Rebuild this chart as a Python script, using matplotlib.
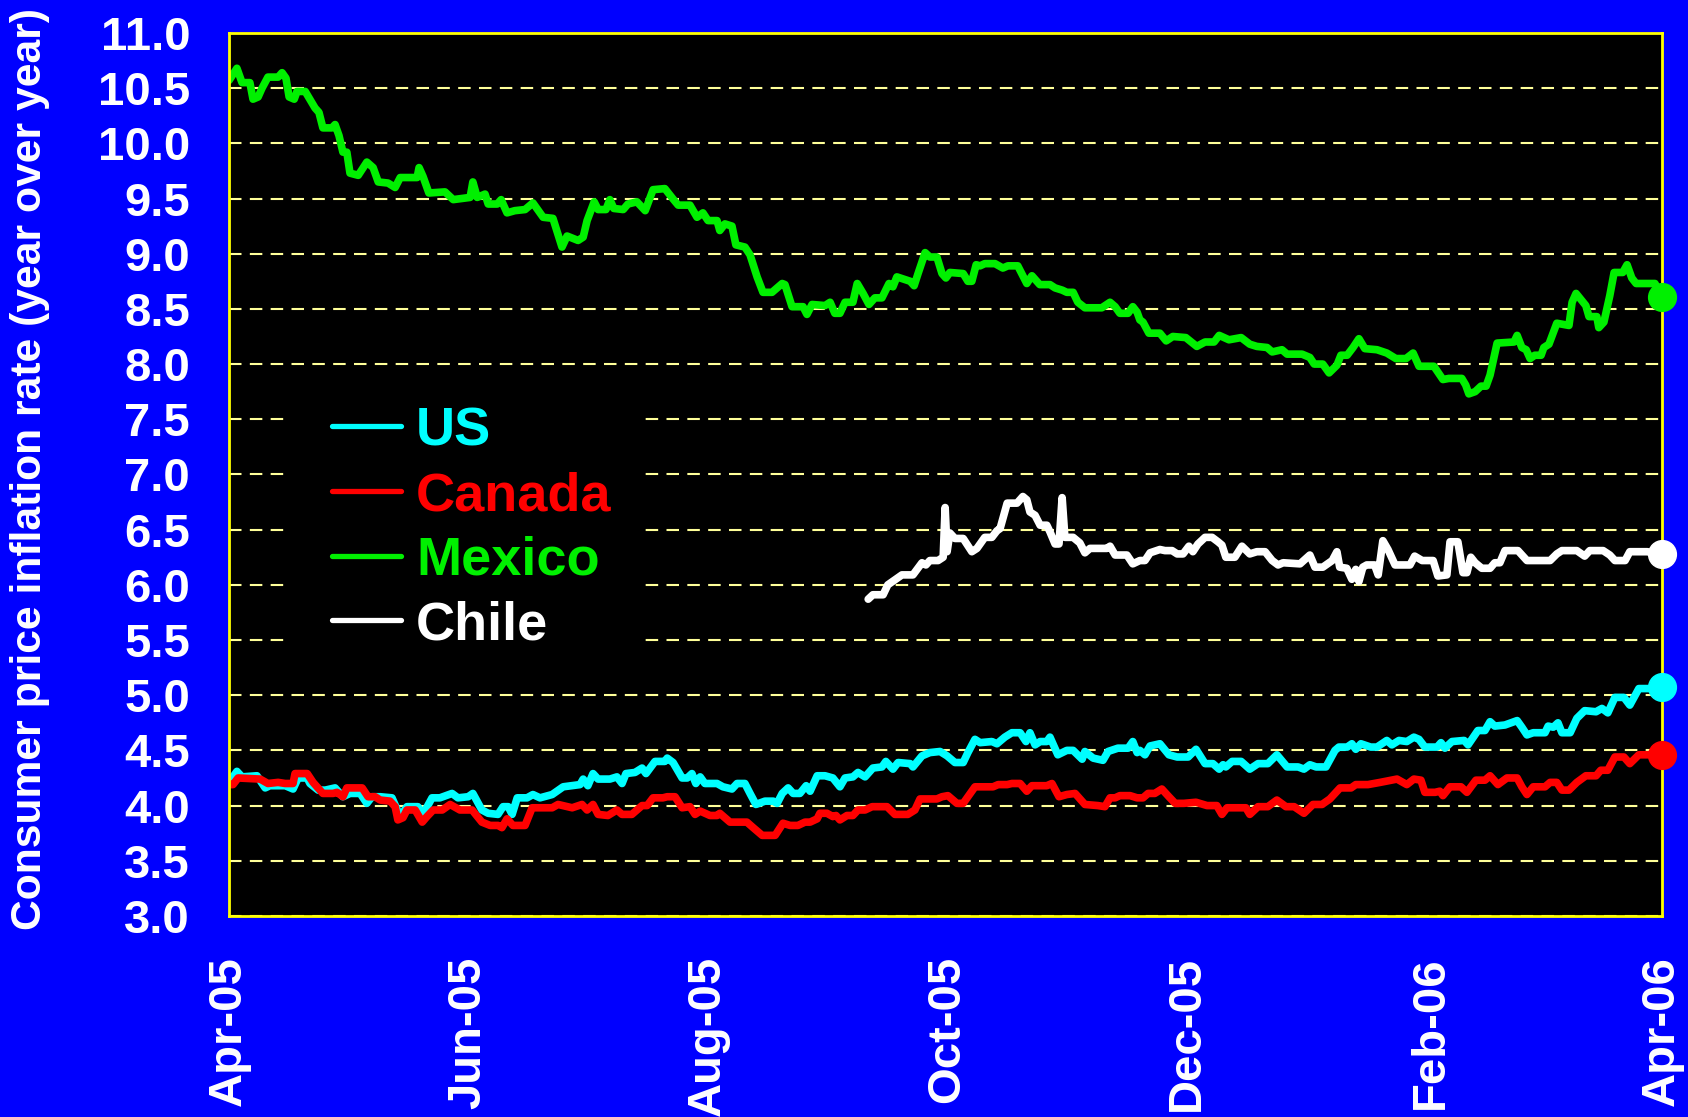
import matplotlib
matplotlib.use("Agg")
import matplotlib.pyplot as plt
import matplotlib.dates as mdates
from matplotlib.patches import Rectangle
import pandas as pd

plt.rcParams['font.family'] = ['Liberation Sans', 'DejaVu Sans']
plt.rcParams['font.weight'] = 'bold'

start = pd.Timestamp('2005-04-01')
end = pd.Timestamp('2006-04-01')

# (days since 1 Apr 2005, CPI inflation % y/y)
us = [
    (0, 4.21), (2, 4.31), (3.3, 4.26), (7.1, 4.27), (9.2, 4.16), (10.4, 4.18), (14.3, 4.18),
    (16.3, 4.15), (17.6, 4.25), (19.9, 4.25), (20.6, 4.20), (22.7, 4.14), (24.5, 4.14),
    (27, 4.16), (29, 4.08), (30.8, 4.11), (33.4, 4.11), (35.1, 4.02), (36.4, 4.08),
    (38.5, 4.08), (41.5, 4.07), (43.6, 3.90), (45.3, 3.99), (48.1, 3.99), (49.4, 3.92),
    (51.7, 4.07), (53.7, 4.07), (56.8, 4.11), (58.3, 4.07), (60.9, 4.08), (62.1, 4.11),
    (64.4, 3.96), (66, 3.93), (68.5, 3.92), (69.8, 3.99), (71.1, 3.99), (72.1, 3.92),
    (73.4, 4.07), (75.9, 4.07), (77.4, 4.10), (79.2, 4.07), (82.3, 4.10), (85.1, 4.17),
    (89.4, 4.19), (90.2, 4.24), (91.4, 4.18), (92.7, 4.29), (94, 4.24), (97, 4.24),
    (98.8, 4.26), (100.1, 4.20), (101.1, 4.29), (103.4, 4.30), (105.2, 4.34), (106.2, 4.29),
    (108.5, 4.40), (111, 4.40), (111.6, 4.43), (113.1, 4.39), (115.4, 4.25), (116.7, 4.25),
    (117.9, 4.29), (118.9, 4.20), (120, 4.26), (121.2, 4.20), (124.3, 4.20), (125.8, 4.17),
    (128.1, 4.15), (129.4, 4.20), (131.4, 4.20), (132.7, 4.11), (134.2, 4.01), (136.5, 4.04),
    (138.6, 4.04), (139.6, 4.02), (140.9, 4.11), (142.4, 4.16), (143.7, 4.11), (145.4, 4.11),
    (147, 4.18), (148, 4.13), (149.8, 4.27), (151.8, 4.27), (153.8, 4.25), (155.6, 4.17),
    (156.9, 4.25), (158.9, 4.26), (160.2, 4.30), (162, 4.26), (164, 4.34), (166.3, 4.35),
    (167.3, 4.40), (169.1, 4.33), (170.4, 4.39), (173.5, 4.38), (174.2, 4.35), (176.5, 4.45),
    (178.5, 4.48), (181.1, 4.49), (182.9, 4.45), (184.9, 4.39), (187, 4.39), (188.2, 4.48),
    (190, 4.60), (191.3, 4.57), (194.3, 4.58), (195.6, 4.56), (197.6, 4.62), (199.4, 4.66),
    (201.5, 4.66), (203, 4.58), (204, 4.66), (205.3, 4.55), (206.6, 4.58), (208.3, 4.58),
    (209.1, 4.62), (211.1, 4.46), (213.4, 4.50), (215, 4.50), (217.3, 4.42), (218, 4.49),
    (220.1, 4.43), (222.6, 4.41), (223.9, 4.49), (226.4, 4.52), (229, 4.52), (230.2, 4.58),
    (231.3, 4.48), (232, 4.50), (233.3, 4.46), (234.6, 4.54), (237.1, 4.56), (239.4, 4.46),
    (241.5, 4.44), (244.3, 4.44), (246.3, 4.51), (248.6, 4.38), (250.6, 4.38), (252.2, 4.33),
    (253.2, 4.37), (253.9, 4.35), (255.5, 4.40), (257.8, 4.40), (260, 4.33), (262.1, 4.38),
    (264.6, 4.38), (266.9, 4.46), (269.5, 4.35), (272.3, 4.35), (273.8, 4.33), (275.3, 4.37),
    (276.9, 4.35), (279.4, 4.35), (281.7, 4.50), (282.7, 4.53), (284.8, 4.53), (286, 4.56),
    (287, 4.51), (288.3, 4.56), (290.8, 4.53), (292.4, 4.53), (294.9, 4.59), (296.2, 4.55),
    (298, 4.59), (300, 4.58), (301.8, 4.62), (303.1, 4.60), (304.6, 4.53), (307.7, 4.53),
    (308.7, 4.57), (309.7, 4.52), (311.5, 4.58), (314.6, 4.59), (315.6, 4.55), (318.1, 4.68),
    (319.9, 4.68), (321.2, 4.76), (322.4, 4.72), (325, 4.73), (327.3, 4.76), (328.1, 4.77),
    (329.3, 4.71), (330.6, 4.64), (332.2, 4.66), (335.2, 4.66), (336, 4.72), (337.3, 4.71),
    (338.5, 4.75), (339.5, 4.66), (341.6, 4.66), (343.3, 4.79), (345.3, 4.86), (348.2, 4.85),
    (349.7, 4.88), (351.2, 4.84), (353, 4.98), (355.3, 4.98), (356.8, 4.91), (359.1, 5.06),
    (361.7, 5.06), (365, 5.07),
]

canada = [
    (0, 4.19), (1, 4.19), (2.3, 4.25), (7.9, 4.24), (9.9, 4.20), (12.5, 4.21), (14.3, 4.20),
    (16.3, 4.20), (16.8, 4.29), (19.9, 4.29), (21.4, 4.21), (23.9, 4.11), (26.5, 4.11),
    (27.5, 4.12), (29, 4.08), (30, 4.16), (33.9, 4.16), (35.4, 4.08), (37.2, 4.08),
    (38.5, 4.05), (41, 4.04), (42.3, 3.99), (43, 3.87), (44.3, 3.89), (45.3, 3.96),
    (47.4, 3.96), (49.2, 3.85), (50.4, 3.90), (52, 3.96), (54.3, 3.96), (56.3, 4.01),
    (58.8, 3.96), (61.9, 3.96), (64.4, 3.85), (66.5, 3.82), (68.5, 3.82), (69.5, 3.80),
    (70.8, 3.88), (72.3, 3.82), (75.4, 3.82), (77.2, 3.98), (82.3, 3.98), (83.8, 4.01),
    (87.4, 3.98), (89.9, 4.01), (91.2, 3.96), (92.7, 4.01), (94, 3.92), (96.5, 3.91),
    (98.8, 3.96), (100.1, 3.92), (102.6, 3.92), (105.2, 4.00), (106.5, 4.00), (108, 4.07),
    (110.5, 4.07), (111.6, 4.08), (113.6, 4.08), (115.4, 3.98), (117.4, 3.99), (118.7, 3.92),
    (120, 3.95), (122.5, 3.91), (124.3, 3.91), (125, 3.93), (127.6, 3.85), (131.9, 3.85),
    (133.5, 3.80), (135.8, 3.73), (139.1, 3.73), (141.1, 3.84), (142.9, 3.82), (144.9, 3.82),
    (146.7, 3.85), (148, 3.85), (149.8, 3.88), (150.5, 3.93), (152.3, 3.93), (153.8, 3.90),
    (154.6, 3.91), (155.6, 3.87), (157.4, 3.91), (158.9, 3.91), (160.2, 3.96), (162, 3.96),
    (163.8, 3.99), (167.6, 3.99), (169.6, 3.92), (172.9, 3.92), (174.7, 3.96), (176, 4.06),
    (180.3, 4.06), (181.6, 4.08), (183.1, 4.09), (185.4, 4.02), (187, 4.02), (188, 4.07),
    (190, 4.17), (194.6, 4.17), (195.9, 4.19), (198.2, 4.19), (199.4, 4.20), (201.5, 4.20),
    (203.2, 4.13), (204.5, 4.18), (208.3, 4.18), (209.6, 4.20), (211.4, 4.08), (213.4, 4.10),
    (215.5, 4.11), (218, 4.01), (221.3, 4.00), (223.1, 3.99), (224.4, 4.07), (225.7, 4.07),
    (226.9, 4.09), (229.5, 4.09), (231.3, 4.07), (232.8, 4.07), (234.1, 4.11), (235.8, 4.11),
    (237.6, 4.15), (239.4, 4.08), (241, 4.02), (243.2, 4.02), (246.3, 4.03), (249.1, 4.00),
    (251.6, 4.00), (252.9, 3.92), (254.2, 3.98), (259, 3.98), (260, 3.92), (262.1, 3.99),
    (264.6, 3.99), (266.9, 4.05), (269.2, 3.99), (271.3, 3.99), (273.8, 3.93), (276.1, 4.01),
    (278.4, 4.01), (280.4, 4.06), (283, 4.16), (285.8, 4.16), (287, 4.19), (290.1, 4.19),
    (293.2, 4.21), (297.5, 4.24), (300, 4.19), (301.8, 4.24), (303.6, 4.23), (304.6, 4.12),
    (307.2, 4.12), (308.4, 4.13), (309.2, 4.09), (311, 4.17), (313.8, 4.17), (315.3, 4.12),
    (317.6, 4.23), (319.9, 4.23), (321.2, 4.27), (323.2, 4.19), (325.5, 4.25), (328.1, 4.25),
    (329.3, 4.17), (330.6, 4.10), (332.2, 4.17), (335.2, 4.17), (336.5, 4.21), (338.2, 4.21),
    (339.5, 4.14), (341.3, 4.14), (343.3, 4.21), (345.6, 4.27), (348.2, 4.27), (349.4, 4.32),
    (351.2, 4.32), (353, 4.44), (355.3, 4.44), (356.8, 4.38), (359.1, 4.46), (361.7, 4.46),
    (365, 4.46),
]

mexico = [
    (0, 10.57), (2, 10.68), (3.3, 10.55), (5.3, 10.55), (6.1, 10.40), (7.4, 10.42), (8.4, 10.50),
    (9.9, 10.60), (12.5, 10.60), (13.5, 10.64), (14.5, 10.59), (15.3, 10.42), (16.6, 10.40),
    (17.3, 10.47), (19.4, 10.47), (21.9, 10.32), (22.9, 10.28), (23.9, 10.14), (26.2, 10.14),
    (27, 10.17), (28, 10.07), (29, 9.92), (30, 9.92), (30.8, 9.73), (32.9, 9.71), (35.1, 9.83),
    (36.7, 9.78), (38, 9.65), (40.5, 9.64), (42.3, 9.60), (43.6, 9.69), (47.9, 9.69),
    (48.4, 9.78), (49.4, 9.70), (50.9, 9.55), (55, 9.56), (57.1, 9.49), (61.4, 9.51),
    (62.1, 9.65), (63.2, 9.51), (65.2, 9.54), (66, 9.45), (68.3, 9.45), (69.3, 9.49),
    (70.8, 9.37), (72.8, 9.39), (75.4, 9.40), (77.4, 9.46), (80, 9.33), (82.5, 9.32),
    (84.8, 9.06), (86.1, 9.16), (88.9, 9.12), (90.2, 9.15), (91.2, 9.30), (93, 9.47),
    (94, 9.40), (96, 9.40), (97, 9.49), (98, 9.41), (100.4, 9.40), (101.6, 9.45), (103.9, 9.47),
    (106, 9.39), (108, 9.58), (111, 9.59), (113, 9.50), (114.4, 9.44), (117.4, 9.44),
    (119.2, 9.33), (120.7, 9.37), (122, 9.30), (124.3, 9.30), (125, 9.21), (126.3, 9.27),
    (128.1, 9.25), (129.1, 9.08), (131.4, 9.06), (132.7, 8.99), (134.5, 8.79), (136, 8.65),
    (138.3, 8.65), (140.9, 8.73), (141.6, 8.72), (143.4, 8.52), (146.2, 8.52), (147.2, 8.45),
    (148.5, 8.54), (151.8, 8.53), (153.1, 8.56), (154.3, 8.46), (155.6, 8.46), (156.9, 8.56),
    (158.9, 8.56), (160, 8.73), (161.5, 8.64), (163, 8.54), (164.5, 8.60), (166.3, 8.60),
    (168.1, 8.73), (169.1, 8.70), (170.1, 8.79), (173.5, 8.75), (174.5, 8.71), (175.5, 8.82),
    (177.3, 9.01), (178.5, 8.97), (180.3, 8.97), (181.6, 8.82), (182.6, 8.78), (183.6, 8.83),
    (187, 8.82), (188.2, 8.75), (189.2, 8.75), (190.3, 8.90), (191.3, 8.89), (192.5, 8.91),
    (195.1, 8.91), (197.1, 8.87), (198.4, 8.89), (200.9, 8.89), (203.2, 8.73), (204.5, 8.80),
    (206.5, 8.72), (209.1, 8.72), (210.4, 8.69), (212.2, 8.67), (213.4, 8.65), (215, 8.65),
    (216.2, 8.56), (218, 8.51), (222.3, 8.51), (224.4, 8.56), (225.7, 8.52), (226.9, 8.46),
    (229, 8.46), (230.2, 8.52), (231.3, 8.47), (232, 8.40), (232.8, 8.38), (234.3, 8.28),
    (237.1, 8.28), (238.7, 8.21), (240.4, 8.25), (243.7, 8.24), (246.5, 8.16), (248.6, 8.20),
    (250.9, 8.20), (252.2, 8.26), (254.7, 8.22), (257.8, 8.24), (260, 8.18), (261.8, 8.16),
    (264.4, 8.15), (265.7, 8.11), (268.2, 8.13), (269.5, 8.09), (273.3, 8.09), (275.3, 8.06),
    (276.4, 8.00), (278.6, 8.00), (280.2, 7.92), (282.2, 7.99), (283.2, 8.08), (284.8, 8.08),
    (286.3, 8.15), (287.8, 8.23), (289.3, 8.14), (292.4, 8.13), (294.9, 8.10), (297.2, 8.05),
    (299.8, 8.05), (301.6, 8.10), (303.1, 7.98), (306.9, 7.98), (309.2, 7.86), (310.7, 7.87),
    (314, 7.87), (315, 7.81), (315.8, 7.73), (317.4, 7.75), (318.9, 7.80), (320.2, 7.80),
    (321.2, 7.90), (323, 8.19), (327.3, 8.20), (328.1, 8.26), (329.3, 8.15), (330.4, 8.13),
    (331.4, 8.05), (332.6, 8.08), (334.2, 8.08), (334.9, 8.15), (336.2, 8.18), (338.2, 8.37),
    (341.3, 8.35), (342.1, 8.56), (343.1, 8.64), (345.6, 8.53), (346.4, 8.43), (348.4, 8.43),
    (348.9, 8.33), (350.2, 8.38), (351.7, 8.62), (352.8, 8.83), (355, 8.83), (356.1, 8.90),
    (357.3, 8.78), (358.4, 8.73), (363.2, 8.73), (365, 8.61),
]

chile = [
    (162.8, 5.87), (164, 5.91), (166.6, 5.91), (167.8, 6.00), (171.4, 6.09), (174.2, 6.09),
    (176.5, 6.20), (177.5, 6.18), (178.5, 6.22), (180.6, 6.22), (181.9, 6.25), (182.4, 6.70),
    (182.9, 6.30), (183.6, 6.47), (184.9, 6.42), (187, 6.42), (189.2, 6.30), (190.5, 6.33),
    (192.5, 6.43), (194.3, 6.43), (195.6, 6.49), (196.4, 6.51), (198.2, 6.74), (200.7, 6.74),
    (202.2, 6.80), (203.2, 6.77), (204, 6.66), (205.3, 6.63), (206.6, 6.54), (208.3, 6.54),
    (209.1, 6.48), (210.4, 6.37), (211.4, 6.37), (212.2, 6.79), (212.9, 6.43), (215, 6.43),
    (216.7, 6.38), (218, 6.29), (219.3, 6.33), (223.6, 6.33), (224.4, 6.35), (225.7, 6.27),
    (228.7, 6.27), (230.2, 6.19), (232, 6.22), (233.3, 6.22), (234.6, 6.29), (237.1, 6.32),
    (238.4, 6.31), (240.2, 6.31), (241.5, 6.28), (243, 6.28), (244.5, 6.35), (245.5, 6.30),
    (246.8, 6.37), (248.6, 6.43), (250.4, 6.43), (251.9, 6.39), (252.9, 6.36), (253.9, 6.25),
    (256.2, 6.25), (258, 6.35), (260, 6.28), (261.8, 6.30), (263.9, 6.30), (265.7, 6.22),
    (267.2, 6.18), (268.5, 6.20), (272.8, 6.19), (275.3, 6.27), (276.6, 6.16), (278.6, 6.16),
    (281, 6.22), (282.2, 6.30), (282.9, 6.16), (284.7, 6.15), (286, 6.05), (287, 6.14),
    (287.8, 6.03), (288.8, 6.16), (289.8, 6.18), (291.8, 6.18), (292.7, 6.09), (293.9, 6.40),
    (295.2, 6.32), (297, 6.18), (300.8, 6.18), (302, 6.26), (303.9, 6.22), (306.7, 6.22),
    (307.9, 6.08), (310.2, 6.09), (311, 6.39), (313, 6.39), (314.3, 6.11), (315.3, 6.11),
    (316.3, 6.25), (317.4, 6.20), (319.1, 6.15), (321.2, 6.15), (322.4, 6.20), (323.7, 6.20),
    (325, 6.31), (328.3, 6.31), (330.6, 6.22), (336.5, 6.22), (338.2, 6.28), (339.5, 6.31),
    (343.3, 6.31), (345.3, 6.26), (346.6, 6.31), (350, 6.31), (351.7, 6.27), (353, 6.22),
    (355.6, 6.22), (356.8, 6.30), (361.2, 6.30), (365, 6.28),
]

series = [
    ("US", us, "#00FFFF"),
    ("Canada", canada, "#FF0000"),
    ("Mexico", mexico, "#00F000"),
    ("Chile", chile, "#FFFFFF"),
]

fig = plt.figure(figsize=(16.88, 11.17), dpi=100, facecolor="#0000FF")
ax = fig.add_axes([0.1357, 0.1800, 0.8489, 0.7905])
ax.set_facecolor("black")

for name, data, color in series:
    dates = [start + pd.Timedelta(days=d) for d, v in data]
    vals = [v for d, v in data]
    ax.plot(dates, vals, color=color, lw=5.5, label=name,
            solid_joinstyle="round", solid_capstyle="round")
    # big dot on the latest reading
    ax.plot(dates[-1], vals[-1], "o", color=color, ms=20, clip_on=False, zorder=5)

ax.set_xlim(start, end)
ax.set_ylim(3.0, 11.0)
ax.set_yticks([3.0 + 0.5 * i for i in range(17)])
ax.yaxis.set_major_formatter(plt.FormatStrFormatter("%.1f"))
ax.xaxis.set_major_locator(mdates.MonthLocator(bymonth=[2, 4, 6, 8, 10, 12]))
ax.xaxis.set_major_formatter(mdates.DateFormatter("%b-%y"))

ax.grid(axis="y", color="#FFFF99", lw=1.5, linestyle=(0, (6, 4)))
ax.set_axisbelow(True)
for sp in ax.spines.values():
    sp.set_color("#FFFF00")
    sp.set_linewidth(2)

ax.tick_params(length=0, colors="white", labelsize=34)
ax.tick_params(axis="y", pad=28)
ax.tick_params(axis="x", pad=29, labelrotation=90)
for lab in ax.get_xticklabels() + ax.get_yticklabels():
    lab.set_fontweight("bold")

ax.set_ylabel("Consumer price inflation rate (year over year)",
              color="white", fontsize=30.7, fontweight="bold")
ax.yaxis.set_label_coords(-0.125, 0.506)

# black panel behind the legend that hides the grid there
ax.add_patch(Rectangle((0.0412, 0.284), 0.2491, 0.306, transform=ax.transAxes,
                       facecolor="black", edgecolor="none", zorder=1))

leg = ax.legend(loc="upper left", bbox_to_anchor=(0.0719, 0.577), borderaxespad=0,
                frameon=False, prop={"size": 39, "weight": "bold"},
                labelcolor="linecolor", handlelength=1.27, handletextpad=0.28,
                labelspacing=0.27, borderpad=0)
for line in leg.get_lines():
    line.set_linewidth(3.8)
    line.set_solid_capstyle("round")

fig.savefig("out.png", dpi=100, facecolor=fig.get_facecolor())
